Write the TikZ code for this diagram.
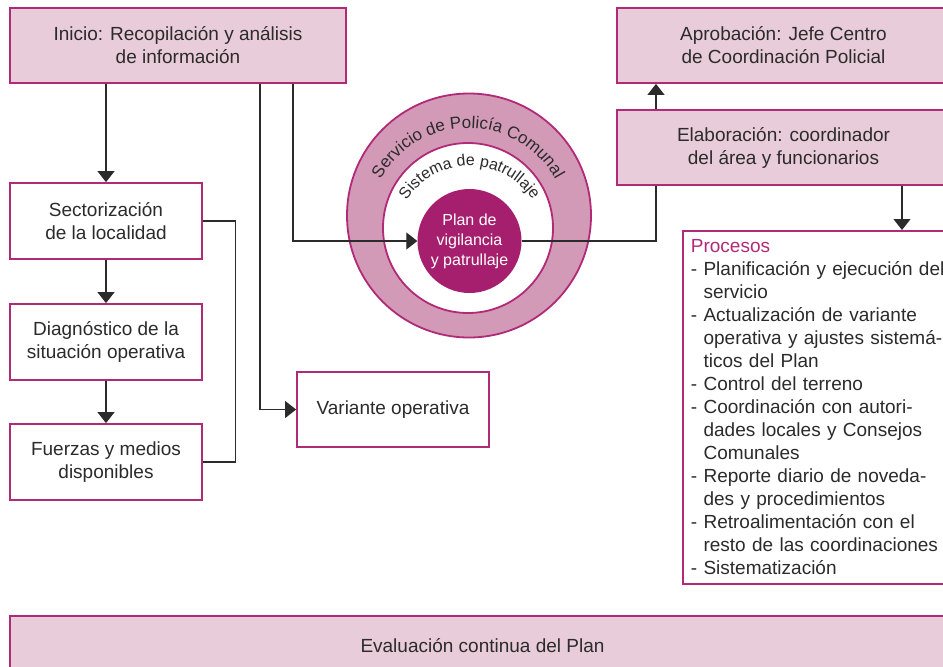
\documentclass[tikz,border=0pt]{standalone}
\usepackage{fontspec}
\setmainfont{Liberation Sans}
\usetikzlibrary{arrows.meta,decorations.text}
\definecolor{magborde}{HTML}{B02A78}
\definecolor{rosaclaro}{HTML}{E9CCD9}
\definecolor{rosaanillo}{HTML}{D29AB7}
\definecolor{magplan}{HTML}{A61F6E}
\definecolor{texto}{HTML}{2B2B2B}
\newcommand{\arcletra}{\fontsize{17}{18}\selectfont\color{texto}}
\newcommand{\arcletrab}{\fontsize{16}{18}\selectfont\color{texto}}
\begin{document}
\begin{tikzpicture}[x=1pt,y=1pt]
 \tikzset{caja/.style={draw=magborde, line width=1.8pt, fill=white, text=texto, align=center,
   minimum width=192pt, minimum height=76pt, inner sep=0pt, font=\fontsize{19}{23}\selectfont}}
 \tikzset{cajarosa/.style={caja, fill=rosaclaro}}
 \tikzset{directed/.style={-{Triangle[width=17pt,length=11pt]}}}
 \tikzset{linea/.style={line width=1.1pt, draw=texto}}
 \useasboundingbox (0,0) rectangle (943,-667);
  \node[cajarosa, minimum width=336pt, minimum height=75pt] (inicio) at (178,-45.5) {Inicio: Recopilación y análisis\\de información};
  \node[cajarosa, minimum width=333pt, minimum height=75pt] (aprob) at (783.5,-45.5) {Aprobación: Jefe Centro\\de Coordinación Policial};
  \node[cajarosa, minimum width=333pt, minimum height=75pt] (elab) at (783.5,-147.5) {Elaboración: coordinador\\del área y funcionarios};
  \node[caja] (sect) at (106,-221) {Sectorización\\de la localidad};
  \node[caja] (diag) at (106,-342) {Diagnóstico de la\\situación operativa};
  \node[caja] (fuer) at (106,-462) {Fuerzas y medios\\disponibles};
  \node[caja, minimum height=75pt] (vari) at (393,-409.5) {Variante operativa};
  \node[caja, anchor=north west, align=left, text width=254pt, inner xsep=8pt, minimum height=353pt] (proc) at (682,-230)
   {\textcolor{magborde}{Procesos}\\
    - Planificación y ejecución del\\\hphantom{- }servicio\\
    - Actualización de variante\\\hphantom{- }operativa y ajustes sistemá-\\\hphantom{- }ticos del Plan\\
    - Control del terreno\\
    - Coordinación con autori-\\\hphantom{- }dades locales y Consejos\\\hphantom{- }Comunales\\
    - Reporte diario de noveda-\\\hphantom{- }des y procedimientos\\
    - Retroalimentación con el\\\hphantom{- }resto de las coordinaciones\\
    - Sistematización};
  \node[cajarosa, minimum width=945pt, minimum height=60pt] (eval) at (482.5,-646) {Evaluación continua del Plan};
  % circulos
  \node[circle, draw=magborde, line width=1.8pt, fill=rosaanillo, minimum size=244pt, inner sep=0pt] (servicio) at (469,-215.5) {};
  \node[circle, draw=magborde, line width=1.8pt, fill=white, minimum size=170pt, inner sep=0pt] (sistema) at (468,-228) {};
  \node[circle, fill=magplan, text=white, minimum size=104pt, inner sep=0pt, align=center,
   font=\fontsize{16}{20}\selectfont] (plan) at (469.5,-241) {Plan de\\vigilancia\\y patrullaje};
  \path[decorate, decoration={text along path, text align=center, text={|\arcletra|Servicio de Policía Comunal}}]
   (sistema.center) ++(160:100) arc[start angle=160, end angle=20, radius=100];
  \path[decorate, decoration={text along path, text align=center, text={|\arcletrab|Sistema de patrullaje}}]
   (plan.center) ++(160:75) arc[start angle=160, end angle=20, radius=75];
  % conectores
  \draw[linea, directed] (sect.north |- inicio.south) -- (sect.north);
  \draw[linea, directed] (sect) -- (diag);
  \draw[linea, directed] (diag) -- (fuer);
  \draw[linea] (sect.east) -- ++(33,0) |- (fuer.east);
  \draw[linea, directed] ([xshift=82pt]inicio.south) |- (vari.west);
  \draw[linea, directed] ([xshift=115pt]inicio.south) |- (plan.west);
  \draw[linea] (plan.east) -| ([xshift=-127.5pt]elab.south);
  \draw[linea, directed] ([xshift=-127.5pt]elab.north) -- ([xshift=-127.5pt]aprob.south);
  \draw[linea, directed] ([xshift=118.5pt]elab.south) -- ([xshift=118.5pt]elab.south |- proc.north);
\end{tikzpicture}
\end{document}
